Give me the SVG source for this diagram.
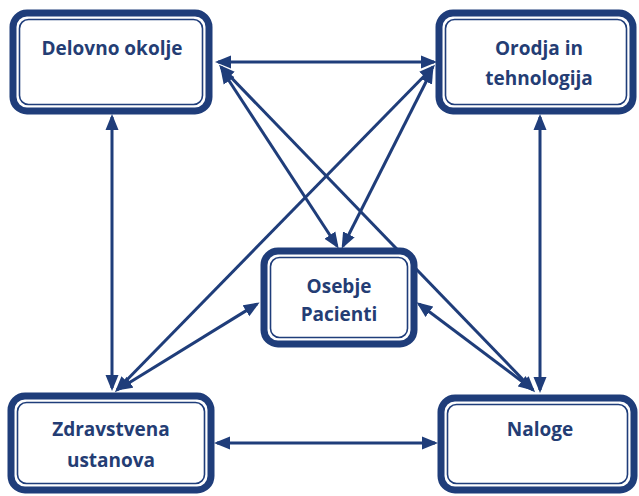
<svg xmlns="http://www.w3.org/2000/svg" width="639" height="496" viewBox="0 0 639 496">
<style>
.outer{fill:#fff;stroke:#1f3d7a;stroke-width:7}
.inner{fill:none;stroke:#1f3d7a;stroke-width:1.6}
.lbl{font-family:"Open Sans",Lato,"DejaVu Sans",sans-serif;font-weight:bold;font-size:19px;fill:#243d74;text-anchor:middle}
.con{stroke:#1f3d7a;stroke-width:3;fill:none;marker-start:url(#ah);marker-end:url(#ah)}
</style>
<defs>
<marker id="ah" markerUnits="userSpaceOnUse" markerWidth="17" markerHeight="14" refX="13" refY="6.5" orient="auto-start-reverse" viewBox="0 0 17 13">
<path d="M0,0 L16,6.5 L0,13 z" fill="#1f3d7a"/>
</marker>
</defs>
<rect width="639" height="496" fill="#fff"/>
<g id="connectors">
<path class="con" d="M218,62 L434,62"/>
<path class="con" d="M112,117 L112,388"/>
<path class="con" d="M540,117 L540,390"/>
<path class="con" d="M217,443 L435,443"/>
<path class="con" d="M221,67 L533,390"/>
<path class="con" d="M433,67 L117,390"/>
<path class="con" d="M222,70 L337,246"/>
<path class="con" d="M432,70 L343,246"/>
<path class="con" d="M119,389 L257,304"/>
<path class="con" d="M532,389 L419,304"/>
</g>
<g id="delovno">
<rect class="outer" x="13" y="13" width="196" height="98" rx="14"/>
<rect class="inner" x="19.5" y="19.5" width="183" height="85" rx="9"/>
<text class="lbl" x="112" y="55">Delovno okolje</text>
</g>
<g id="orodja">
<rect class="outer" x="439" y="13" width="194" height="98" rx="14"/>
<rect class="inner" x="445.5" y="19.5" width="181" height="85" rx="9"/>
<text class="lbl" x="539" y="55">Orodja in</text>
<text class="lbl" x="539" y="85">tehnologija</text>
</g>
<g id="osebje">
<rect class="outer" x="264" y="251" width="150" height="93" rx="14"/>
<rect class="inner" x="270.5" y="257.5" width="137" height="80" rx="9"/>
<text class="lbl" x="339" y="293">Osebje</text>
<text class="lbl" x="339" y="321">Pacienti</text>
</g>
<g id="zdravstvena">
<rect class="outer" x="11" y="396" width="200" height="94" rx="14"/>
<rect class="inner" x="17.5" y="402.5" width="187" height="81" rx="9"/>
<text class="lbl" x="111" y="436">Zdravstvena</text>
<text class="lbl" x="111" y="467">ustanova</text>
</g>
<g id="naloge">
<rect class="outer" x="441" y="398" width="193" height="92" rx="14"/>
<rect class="inner" x="447.5" y="404.5" width="180" height="79" rx="9"/>
<text class="lbl" x="540" y="436">Naloge</text>
</g>
</svg>
